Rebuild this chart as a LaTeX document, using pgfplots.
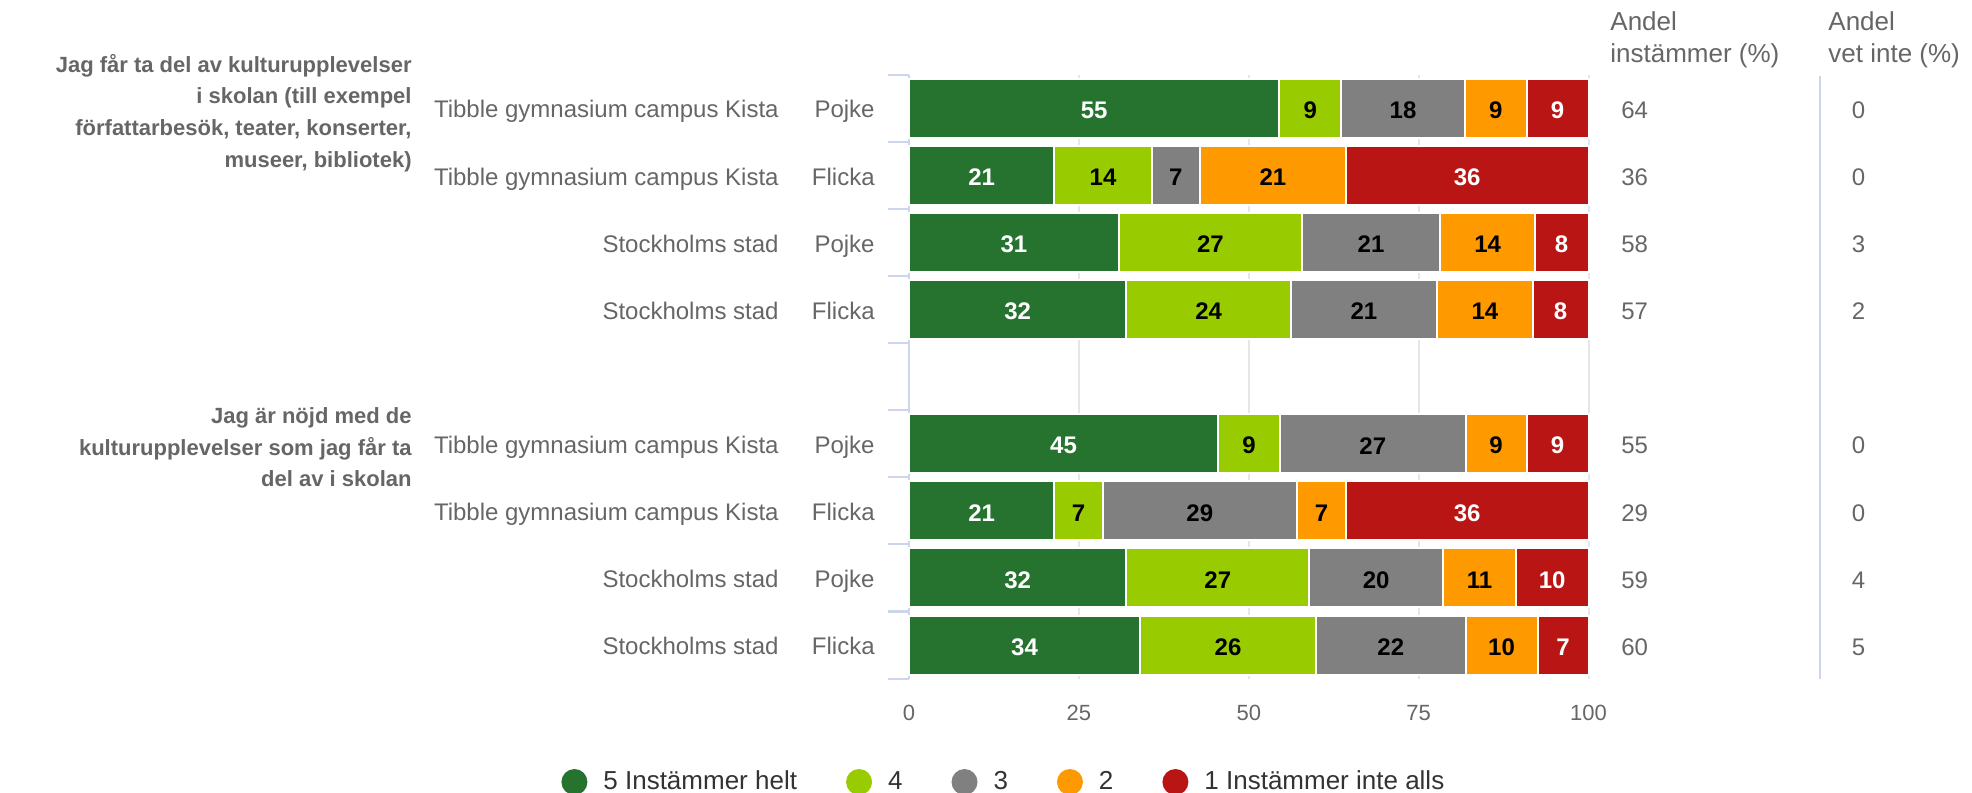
\documentclass[border=0pt]{standalone}
\usepackage{pgfplots}
\pgfplotsset{compat=1.18}
\usepackage{pgfplotstable}
\usepackage{fontspec}
\setmainfont{Liberation Sans}
\definecolor{cfive}{HTML}{267330}
\definecolor{cfour}{HTML}{99CC00}
\definecolor{cthree}{HTML}{808080}
\definecolor{ctwo}{HTML}{FF9900}
\definecolor{cone}{HTML}{BA1515}
\definecolor{labc}{HTML}{666666}
\definecolor{legc}{HTML}{333333}
\definecolor{axblue}{HTML}{CCD6EB}
\definecolor{gridc}{HTML}{E6E6E6}

\pgfplotstableread{
row a5 a4 a3 a2 a1 l5 l4 l3 l2 l1 inst vet
0 54.5 9.1 18.2 9.1 9.1 55 9 18 9 9 64 0
-1 21.4 14.3 7.1 21.5 35.7 21 14 7 21 36 36 0
-2 30.9 26.9 20.4 13.9 7.9 31 27 21 14 8 58 3
-3 32.0 24.2 21.5 14.1 8.2 32 24 21 14 8 57 2
-5 45.5 9.1 27.3 9.0 9.1 45 9 27 9 9 55 0
-6 21.4 7.1 28.6 7.2 35.7 21 7 29 7 36 29 0
-7 32.0 26.9 19.7 10.7 10.7 32 27 20 11 10 59 4
-8 34.0 25.9 22.0 10.6 7.5 34 26 22 10 7 60 5
}\mytab

\begin{document}
\begin{tikzpicture}[
  catl/.style={anchor=base east, text=labc, font=\fontsize{12}{14.4}\selectfont, inner sep=0pt, yshift=-4.9pt},
  grpl/.style={anchor=east, align=right, text=labc, font=\fontsize{11}{15.9}\selectfont\bfseries, inner sep=0pt},
  headl/.style={anchor=west, align=left, text=labc, font=\fontsize{13}{15.7}\selectfont, inner sep=0pt}]
\begin{axis}[
  at={(454.5pt,-339.3pt)}, anchor=south west,
  width=339.75pt, height=302pt, scale only axis,
  xbar stacked, bar width=29.5pt,
  xmin=0, xmax=100, ymin=-8.5, ymax=0.5,
  clip=false,
  axis line style={draw=none},
  xtick={0,25,50,75,100},
  xtick style={draw=none},
  xmajorgrids, major grid style={draw=gridc, line width=1pt},
  ytick={-8.5,-7.5,...,0.5}, yticklabels={},
  ytick pos=left, tick align=outside, major tick length=10.5pt,
  ytick style={draw=axblue, line width=1pt},
  xticklabel style={font=\fontsize{11}{13}\selectfont, text=labc, anchor=center, yshift=-6.65pt},
  /pgf/number format/assume math mode=true,
  legend columns=5,
  legend image code/.code={\draw[#1, draw=none] (6.5pt,0pt) circle (6.5pt);},
  legend style={at={(axis description cs:-0.5121,-0.1712)}, anchor=west, draw=none, fill=none, inner sep=0pt,
    font=\fontsize{13}{15}\selectfont, text=legc, nodes={inner sep=0pt},
    /tikz/every odd column/.append style={column sep=8pt},
    /tikz/every even column/.append style={column sep=24.5pt}},
]
\addplot[fill=cfive, draw=white, line width=1pt] table[x=a5, y=row]{\mytab};
\addlegendentry{5 Instämmer helt}
\addplot[fill=cfour, draw=white, line width=1pt] table[x=a4, y=row]{\mytab};
\addlegendentry{4}
\addplot[fill=cthree, draw=white, line width=1pt] table[x=a3, y=row]{\mytab};
\addlegendentry{3}
\addplot[fill=ctwo, draw=white, line width=1pt] table[x=a2, y=row]{\mytab};
\addlegendentry{2}
\addplot[fill=cone, draw=white, line width=1pt] table[x=a1, y=row]{\mytab};
\addlegendentry{1 Instämmer inte alls}

\draw[axblue, line width=1pt] (rel axis cs:0,0) -- (rel axis cs:0,1);

\node[catl] at ([xshift=-65pt]axis cs:0,0) {Tibble gymnasium campus Kista};
\node[catl] at ([xshift=-65pt]axis cs:0,-1) {Tibble gymnasium campus Kista};
\node[catl] at ([xshift=-65pt]axis cs:0,-2) {Stockholms stad};
\node[catl] at ([xshift=-65pt]axis cs:0,-3) {Stockholms stad};
\node[catl] at ([xshift=-65pt]axis cs:0,-5) {Tibble gymnasium campus Kista};
\node[catl] at ([xshift=-65pt]axis cs:0,-6) {Tibble gymnasium campus Kista};
\node[catl] at ([xshift=-65pt]axis cs:0,-7) {Stockholms stad};
\node[catl] at ([xshift=-65pt]axis cs:0,-8) {Stockholms stad};
\node[catl] at ([xshift=-17pt]axis cs:0,0) {Pojke};
\node[catl] at ([xshift=-17pt]axis cs:0,-1) {Flicka};
\node[catl] at ([xshift=-17pt]axis cs:0,-2) {Pojke};
\node[catl] at ([xshift=-17pt]axis cs:0,-3) {Flicka};
\node[catl] at ([xshift=-17pt]axis cs:0,-5) {Pojke};
\node[catl] at ([xshift=-17pt]axis cs:0,-6) {Flicka};
\node[catl] at ([xshift=-17pt]axis cs:0,-7) {Pojke};
\node[catl] at ([xshift=-17pt]axis cs:0,-8) {Flicka};
\end{axis}

\begin{axis}[
  at={(454.5pt,-339.3pt)}, anchor=south west,
  width=339.75pt, height=302pt, scale only axis,
  xmin=0, xmax=100, ymin=-8.5, ymax=0.5,
  hide axis, clip=false,
  nodes near coords, point meta=explicit symbolic,
  every node near coord/.append style={anchor=center, inner sep=0pt, yshift=-1pt},
]
\addplot[only marks, mark=none, every node near coord/.append style={font=\fontsize{12}{14}\selectfont\bfseries, text=white}]
  table[x expr=\thisrow{a5}/2, y=row, meta=l5]{\mytab};
\addplot[only marks, mark=none, every node near coord/.append style={font=\fontsize{12}{14}\selectfont\bfseries, text=black}]
  table[x expr=\thisrow{a5}+\thisrow{a4}/2, y=row, meta=l4]{\mytab};
\addplot[only marks, mark=none, every node near coord/.append style={font=\fontsize{12}{14}\selectfont\bfseries, text=black}]
  table[x expr=\thisrow{a5}+\thisrow{a4}+\thisrow{a3}/2, y=row, meta=l3]{\mytab};
\addplot[only marks, mark=none, every node near coord/.append style={font=\fontsize{12}{14}\selectfont\bfseries, text=black}]
  table[x expr=\thisrow{a5}+\thisrow{a4}+\thisrow{a3}+\thisrow{a2}/2, y=row, meta=l2]{\mytab};
\addplot[only marks, mark=none, every node near coord/.append style={font=\fontsize{12}{14}\selectfont\bfseries, text=white}]
  table[x expr=100-\thisrow{a1}/2, y=row, meta=l1]{\mytab};
\addplot[only marks, mark=none, every node near coord/.append style={anchor=west, font=\fontsize{12}{14.4}\selectfont, text=labc}]
  table[x expr=104.78, y=row, meta=inst]{\mytab};
\addplot[only marks, mark=none, every node near coord/.append style={anchor=center, font=\fontsize{12}{14.4}\selectfont, text=labc}]
  table[x expr=139.73, y=row, meta=vet]{\mytab};
\end{axis}

\node[grpl] at (206pt,-56.55pt)
  {Jag får ta del av kulturupplevelser\\i skolan (till exempel\\författarbesök, teater, konserter,\\museer, bibliotek)};
\node[grpl] at (206pt,-223.65pt)
  {Jag är nöjd med de\\kulturupplevelser som jag får ta\\del av i skolan};
\node[headl] at (805pt,-19.9pt) {Andel\\instämmer (\%)};
\node[headl] at (914pt,-19.9pt) {Andel\\vet inte (\%)};
\draw[axblue, line width=1pt] (910pt,-38pt) -- (910pt,-339.3pt);

\pgfresetboundingbox
\useasboundingbox (0,0) rectangle (986pt,-396.5pt);
\end{tikzpicture}
\end{document}
